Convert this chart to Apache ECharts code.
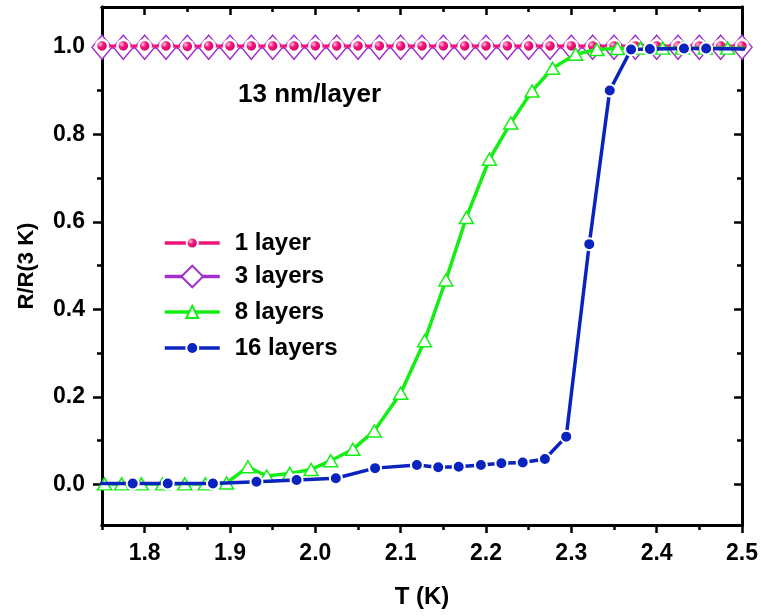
<!DOCTYPE html>
<html>
<head>
<meta charset="utf-8">
<script src="https://cdn.jsdelivr.net/npm/echarts@6/dist/echarts.min.js"></script>
<style>
html,body{margin:0;padding:0;background:#fff;}
#chart{width:761px;height:616px;}
</style>
</head>
<body>
<div id="chart"></div>
<script>
// ---- data ----
var seriesNames = ['1 layer', '3 layers', '8 layers', '16 layers'];
var thinT = [1.750,1.775,1.800,1.825,1.850,1.875,1.900,1.925,1.950,1.975,2.000,2.025,2.050,2.075,2.100,2.125,2.150,2.175,2.200,2.225,2.250,2.275,2.300,2.325,2.350,2.375,2.400,2.425,2.450,2.475,2.500];
var oneLayer = [1.002,1.002,1.002,1.002,1.001,1.002,1.002,1.002,1.002,1.002,1.002,1.002,1.002,1.002,1.002,1.002,1.002,1.002,1.002,1.002,1.002,1.002,1.002,1.002,1.002,1.002,1.002,1.002,1.002,1.002,1.002];
var threeLayers = [0.999,0.999,0.999,0.999,0.999,0.999,0.999,0.999,0.999,0.999,0.999,0.999,0.999,0.999,0.999,0.999,0.999,0.999,0.999,0.999,0.999,0.999,0.999,0.999,0.999,0.999,0.999,0.999,0.999,0.999,0.999];
var eightT = [1.753,1.773,1.796,1.821,1.847,1.871,1.896,1.921,1.943,1.970,1.995,2.018,2.044,2.069,2.100,2.128,2.153,2.177,2.204,2.229,2.254,2.278,2.305,2.330,2.354,2.381,2.407,2.430,2.457,2.483,2.510];
var eightLayers = [0.001,0.001,0.001,0.001,0.001,0.001,0.003,0.040,0.019,0.025,0.034,0.054,0.080,0.122,0.208,0.328,0.467,0.610,0.743,0.826,0.899,0.951,0.983,0.994,0.996,0.997,0.997,0.997,0.997,0.997,0.997];
var sixteenT = [1.740,1.786,1.827,1.880,1.931,1.978,2.024,2.070,2.119,2.144,2.168,2.194,2.218,2.243,2.269,2.294,2.321,2.345,2.370,2.392,2.432,2.458,2.510];
var sixteenLayers = [0.002,0.002,0.002,0.002,0.006,0.010,0.014,0.037,0.044,0.039,0.040,0.044,0.048,0.050,0.058,0.109,0.549,0.900,0.994,0.995,0.996,0.996,0.995];
var xMajorTicks = [1.8,1.9,2.0,2.1,2.2,2.3,2.4,2.5];
var xMinorTicks = [1.75,1.85,1.95,2.05,2.15,2.25,2.35,2.45];
var yMajorTicks = [0.0,0.2,0.4,0.6,0.8,1.0];
var yMinorTicks = [0.1,0.3,0.5,0.7,0.9];
var xTitle = 'T (K)';
var yTitle = 'R/R(3 K)';
var noteText = '13 nm/layer';

// ---- styles ----
var FONT = '"Liberation Sans", Arial, sans-serif';
var cPink = '#F0147C', cPurple = '#A030D0', cGreen = '#14EE14', cBlue = '#0A22BE';
var XMIN = 1.75, XMAX = 2.5, YMIN = -0.093, YMAX = 1.091;
function pairs(xs, ys){ return ys.map(function(v,i){ return [xs[i], v]; }); }
function fmt(v){ return Number(v).toFixed(1); }

function xAx(pos, ticks, len, inside, labels, extra){
  var a = {
    type:'value', position:pos, min:XMIN, max:XMAX,
    axisLine:{show:true, onZero:false, lineStyle:{color:'#000', width:3}},
    axisTick:{show:true, inside:inside, length:len, customValues:ticks, lineStyle:{color:'#000', width:2.5}},
    axisLabel:{show:labels, customValues:ticks, formatter:fmt, margin:17,
      fontFamily:FONT, fontWeight:'bold', fontSize:23, color:'#000'},
    splitLine:{show:false}, silent:true
  };
  return Object.assign(a, extra||{});
}
function yAx(pos, ticks, len, inside, labels, extra){
  var a = {
    type:'value', position:pos, min:YMIN, max:YMAX,
    axisLine:{show:true, onZero:false, lineStyle:{color:'#000', width:3}},
    axisTick:{show:true, inside:inside, length:len, customValues:ticks, lineStyle:{color:'#000', width:2.5}},
    axisLabel:{show:labels, customValues:ticks, formatter:fmt, margin:17,
      fontFamily:FONT, fontWeight:'bold', fontSize:23, color:'#000'},
    splitLine:{show:false}, silent:true
  };
  return Object.assign(a, extra||{});
}

var pinkFill = {type:'radial', x:0.38, y:0.38, r:0.65, colorStops:[
  {offset:0, color:'#FFC0DC'}, {offset:0.35, color:cPink}, {offset:1, color:'#C8005E'}]};

function legendFor(name, itemH, cy){
  var th = 24;
  var h = Math.max(itemH, th);
  return {
    data:[name], orient:'horizontal', left:163, top: cy - h/2, padding:0,
    itemWidth:55, itemHeight:itemH, selectedMode:false,
    lineStyle:{width:3.5},
    textStyle:{fontFamily:FONT, fontWeight:'bold', fontSize:24, color:'#000', padding:[0,0,0,10]}
  };
}

var chart = echarts.init(document.getElementById('chart'), null, {renderer:'canvas'});
chart.setOption({
  animation:false,
  backgroundColor:'#fff',
  grid:{left:102, right:18, top:7, bottom:91, containLabel:false},
  xAxis:[
    xAx('bottom', xMajorTicks, 8, false, true, {name:xTitle, nameLocation:'middle', nameGap:60,
      nameTextStyle:{fontFamily:FONT, fontWeight:'bold', fontSize:24, color:'#000'}}),
    xAx('bottom', xMinorTicks, 5, false, false),
    xAx('top', xMajorTicks, 8, true, false),
    xAx('top', xMinorTicks, 5, true, false)
  ],
  yAxis:[
    yAx('left', yMajorTicks, 9, false, true, {name:yTitle, nameLocation:'middle', nameGap:64, nameRotate:90,
      nameTextStyle:{fontFamily:FONT, fontWeight:'bold', fontSize:22, color:'#000'}}),
    yAx('left', yMinorTicks, 5, false, false),
    yAx('right', yMajorTicks, 8, true, false),
    yAx('right', yMinorTicks, 5, true, false)
  ],
  legend:[
    legendFor(seriesNames[0], 14, 243),
    legendFor(seriesNames[1], 27, 278),
    legendFor(seriesNames[2], 15, 312),
    legendFor(seriesNames[3], 15, 348)
  ],
  graphic:[{type:'text', left:238, top:82, silent:true,
    style:{text:noteText, font:'bold 26px ' + FONT, fill:'#000'}}],
  series:[
    {name:seriesNames[1], type:'line', data:pairs(thinT, threeLayers), symbol:'diamond', symbolSize:[20,24],
      lineStyle:{color:cPurple, width:3}, itemStyle:{color:'#fff', borderColor:cPurple, borderWidth:1.5},
      silent:true, emphasis:{disabled:true}, z:2},
    {name:seriesNames[0], type:'line', data:pairs(thinT, oneLayer), symbol:'circle', symbolSize:12,
      lineStyle:{color:cPink, width:3}, itemStyle:{color:pinkFill, borderColor:'#fff', borderWidth:2.5},
      silent:true, emphasis:{disabled:true}, z:3},
    {name:seriesNames[2], type:'line', data:pairs(eightT, eightLayers), symbol:'triangle', symbolSize:[14,12],
      lineStyle:{color:cGreen, width:3.5}, itemStyle:{color:'#fff', borderColor:cGreen, borderWidth:1.5},
      silent:true, emphasis:{disabled:true}, z:4},
    {name:seriesNames[3], type:'line', data:pairs(sixteenT, sixteenLayers), symbol:'circle', symbolSize:12,
      lineStyle:{color:cBlue, width:3.5}, itemStyle:{color:cBlue, borderColor:'#fff', borderWidth:2},
      silent:true, emphasis:{disabled:true}, z:5}
  ]
});
</script>
</body>
</html>
